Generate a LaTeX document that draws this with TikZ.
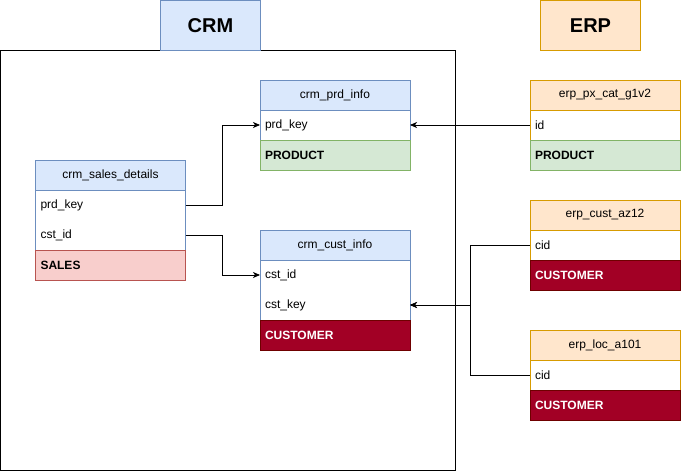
\documentclass[tikz,border=0pt]{standalone}
\usepackage{fontspec}
\setmainfont{Liberation Sans}
\usetikzlibrary{arrows.meta}

\definecolor{crmfill}{HTML}{DAE8FC}
\definecolor{crmline}{HTML}{6C8EBF}
\definecolor{erpfill}{HTML}{FFE6CC}
\definecolor{erpline}{HTML}{D79B00}
\definecolor{prodfill}{HTML}{D5E8D4}
\definecolor{prodline}{HTML}{82B366}
\definecolor{salesfill}{HTML}{F8CECC}
\definecolor{salesline}{HTML}{B85450}
\definecolor{custfill}{HTML}{A20025}
\definecolor{custline}{HTML}{6F0000}

\tikzset{
  tabhead/.style={minimum width=150pt, minimum height=30pt, inner sep=0pt,
    outer sep=0pt, anchor=north west, line width=1pt,
    font=\fontsize{12}{14}\selectfont},
  tabrow/.style={text width=140pt, inner xsep=5pt, inner ysep=0pt,
    outer sep=0pt, minimum height=30pt, align=left, anchor=north west,
    font=\fontsize{12}{14}\selectfont},
  crmhead/.style={tabhead, draw=crmline, fill=crmfill},
  erphead/.style={tabhead, draw=erpline, fill=erpfill},
  tabfoot/.style={tabrow, line width=1pt, font=\fontsize{12}{14}\selectfont\bfseries},
  prodfoot/.style={tabfoot, draw=prodline, fill=prodfill},
  salesfoot/.style={tabfoot, draw=salesline, fill=salesfill},
  custfoot/.style={tabfoot, draw=custline, fill=custfill, text=white},
  grouptitle/.style={minimum width=100pt, minimum height=50pt, inner sep=0pt,
    outer sep=0pt, anchor=north west, line width=1pt,
    font=\fontsize{20}{24}\selectfont\bfseries},
  link/.style={draw, line width=0.8pt, -{Stealth[length=7pt, width=6pt, inset=2pt]}},
}

\begin{document}
\begin{tikzpicture}[x=1pt, y=-1pt]
    \useasboundingbox (0,0) rectangle (681,471);

    % Contenedor CRM
    \draw[line width=1pt] (0.5,50) rectangle (455,470);
    \node[grouptitle, draw=crmline, fill=crmfill] (crmtitle) at (160.5,0.5) {CRM};
    \node[grouptitle, draw=erpline, fill=erpfill] (erptitle) at (540.5,0.5) {ERP};

    % Tabla crm_sales_details
    \node[crmhead] (sdhead) at (35.5,160) {crm\_sales\_details};
    \node[tabrow] (sdprd) at (sdhead.south west) {prd\_key};
    \node[tabrow] (sdcst) at (sdprd.south west) {cst\_id};
    \node[salesfoot] (sdfoot) at (sdcst.south west) {SALES};
    \draw[crmline, line width=1pt] (sdhead.south west) -- (sdfoot.north west)
        (sdhead.south east) -- (sdfoot.north east);

    % Tabla crm_prd_info
    \node[crmhead] (pihead) at (260,80) {crm\_prd\_info};
    \node[tabrow] (piprd) at (pihead.south west) {prd\_key};
    \node[prodfoot] (pifoot) at (piprd.south west) {PRODUCT};
    \draw[crmline, line width=1pt] (pihead.south west) -- (pifoot.north west)
        (pihead.south east) -- (pifoot.north east);

    % Tabla crm_cust_info
    \node[crmhead] (cihead) at (260,230) {crm\_cust\_info};
    \node[tabrow] (cicst) at (cihead.south west) {cst\_id};
    \node[tabrow] (cikey) at (cicst.south west) {cst\_key};
    \node[custfoot] (cifoot) at (cikey.south west) {CUSTOMER};
    \draw[crmline, line width=1pt] (cihead.south west) -- (cifoot.north west)
        (cihead.south east) -- (cifoot.north east);

    % Tabla erp_px_cat_g1v2
    \node[erphead] (pxhead) at (530,80) {erp\_px\_cat\_g1v2};
    \node[tabrow] (pxid) at (pxhead.south west) {id};
    \node[prodfoot] (pxfoot) at (pxid.south west) {PRODUCT};
    \draw[erpline, line width=1pt] (pxhead.south west) -- (pxfoot.north west)
        (pxhead.south east) -- (pxfoot.north east);

    % Tabla erp_cust_az12
    \node[erphead] (azhead) at (530,200) {erp\_cust\_az12};
    \node[tabrow] (azcid) at (azhead.south west) {cid};
    \node[custfoot] (azfoot) at (azcid.south west) {CUSTOMER};
    \draw[erpline, line width=1pt] (azhead.south west) -- (azfoot.north west)
        (azhead.south east) -- (azfoot.north east);

    % Tabla erp_loc_a101
    \node[erphead] (lohead) at (530,330) {erp\_loc\_a101};
    \node[tabrow] (locid) at (lohead.south west) {cid};
    \node[custfoot] (lofoot) at (locid.south west) {CUSTOMER};
    \draw[erpline, line width=1pt] (lohead.south west) -- (lofoot.north west)
        (lohead.south east) -- (lofoot.north east);

    % Relaciones
    \draw[link] (sdprd.east) -- ++(37,0) |- (piprd.west);
    \draw[link] (sdcst.east) -- ++(37,0) |- (cicst.west);
    \draw[link] (pxid.west) -- (piprd.east);
    \draw[link] (azcid.west) -- ++(-60,0) |- (cikey.east);
    \draw[link] (locid.west) -- ++(-60,0) |- (cikey.east);
\end{tikzpicture}
\end{document}
